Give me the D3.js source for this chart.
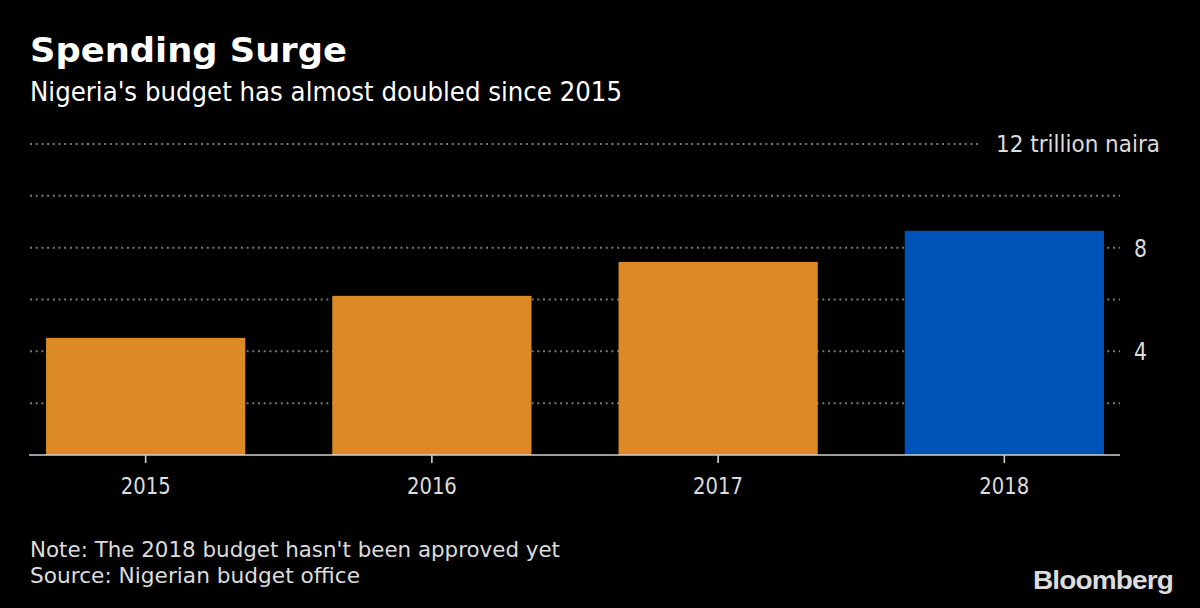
<!DOCTYPE html>
<html><head><meta charset="utf-8">
<script src="https://cdn.jsdelivr.net/npm/d3@7"></script>
<style>html,body{margin:0;padding:0;background:#000;}svg{display:block;}</style>
</head><body>
<svg id="chart" width="1200" height="608"></svg>
<script>
const years = ["2015", "2016", "2017", "2018"];
const budget = [4.52, 6.14, 7.45, 8.65];
const barColors = ["#DC8A26", "#DC8A26", "#DC8A26", "#0052B8"];
const gridValues = [2, 4, 6, 8, 10, 12];
const tickLabels = ["4", "8"];
const unitLabel = "12 trillion naira";
const title = "Spending Surge";
const subtitle = "Nigeria's budget has almost doubled since 2015";
const note = "Note: The 2018 budget hasn't been approved yet";
const source = "Source: Nigerian budget office";

const FONT = "'Liberation Sans Narrow','DejaVu Sans Condensed','Open Sans',sans-serif";
const svg = d3.select("#chart");
svg.append("rect").attr("width", 1200).attr("height", 608).attr("fill", "#000");

const x = d3.scaleBand().domain(years).range([30, 1120]).paddingInner(0.304).paddingOuter(0.056);
const y = d3.scaleLinear().domain([0, 12]).range([455, 144]);

// gridlines
svg.append("g").selectAll("line").data(gridValues).join("line")
  .attr("x1", 30)
  .attr("x2", d => d === 12 ? 978 : 1120)
  .attr("y1", d => y(d)).attr("y2", d => y(d))
  .attr("stroke", "#7a7a7a").attr("stroke-width", 2)
  .attr("stroke-dasharray", "2,3.7");

// bars
svg.append("g").selectAll("rect").data(years).join("rect")
  .attr("x", d => x(d)).attr("width", x.bandwidth())
  .attr("y", (d, i) => y(budget[i]))
  .attr("height", (d, i) => y(0) - y(budget[i]))
  .attr("fill", (d, i) => barColors[i]);

// x axis
const xAxis = d3.axisBottom(x).tickSize(8).tickPadding(15);
const gx = svg.append("g").attr("transform", `translate(0,${y(0)})`).call(xAxis);
gx.select(".domain").attr("stroke", "#d0d0d0").attr("stroke-width", 1.6).attr("d", "M29,0H1120");
gx.selectAll(".tick line").attr("stroke", "#d0d0d0").attr("stroke-width", 1.6);
gx.selectAll(".tick text").attr("fill", "#dcdcdc").attr("font-size", 23).attr("font-family", FONT)
  .attr("textLength", 50).attr("lengthAdjust", "spacingAndGlyphs");

// y labels
svg.append("g").selectAll("text").data(tickLabels).join("text")
  .attr("x", 1134).attr("y", d => y(+d) + 9)
  .attr("fill", "#dcdcdc").attr("font-size", 24).attr("font-family", FONT)
  .attr("textLength", 13).attr("lengthAdjust", "spacingAndGlyphs")
  .text(d => d);
svg.append("text").attr("x", 1160).attr("y", y(12) + 8).attr("text-anchor", "end")
  .attr("fill", "#dcdcdc").attr("font-size", 23).attr("font-family", FONT)
  .attr("textLength", 164).attr("lengthAdjust", "spacingAndGlyphs")
  .text(unitLabel);

// titles
svg.append("text").attr("x", 30).attr("y", 62).attr("fill", "#fff")
  .attr("font-size", 34).attr("font-weight", "bold").attr("font-family", "'DejaVu Sans','Open Sans',sans-serif")
  .attr("textLength", 317).attr("lengthAdjust", "spacingAndGlyphs").text(title);
svg.append("text").attr("x", 30).attr("y", 101).attr("fill", "#fff")
  .attr("font-size", 26).attr("font-family", FONT)
  .attr("textLength", 592).attr("lengthAdjust", "spacingAndGlyphs").text(subtitle);

// footer
svg.append("text").attr("x", 30).attr("y", 557).attr("fill", "#dcdcdc")
  .attr("font-size", 22).attr("font-family", FONT)
  .attr("textLength", 530).attr("lengthAdjust", "spacingAndGlyphs").text(note);
svg.append("text").attr("x", 30).attr("y", 583).attr("fill", "#dcdcdc")
  .attr("font-size", 22).attr("font-family", FONT)
  .attr("textLength", 330).attr("lengthAdjust", "spacingAndGlyphs").text(source);
svg.append("text").attr("x", 1173).attr("y", 589).attr("text-anchor", "end").attr("fill", "#dcdcdc")
  .attr("font-size", 25).attr("font-weight", "bold").attr("font-family", "'Liberation Sans',Arial,sans-serif")
  .attr("letter-spacing", -0.8)
  .attr("textLength", 140).attr("lengthAdjust", "spacingAndGlyphs").text("Bloomberg");
</script>
</body></html>
